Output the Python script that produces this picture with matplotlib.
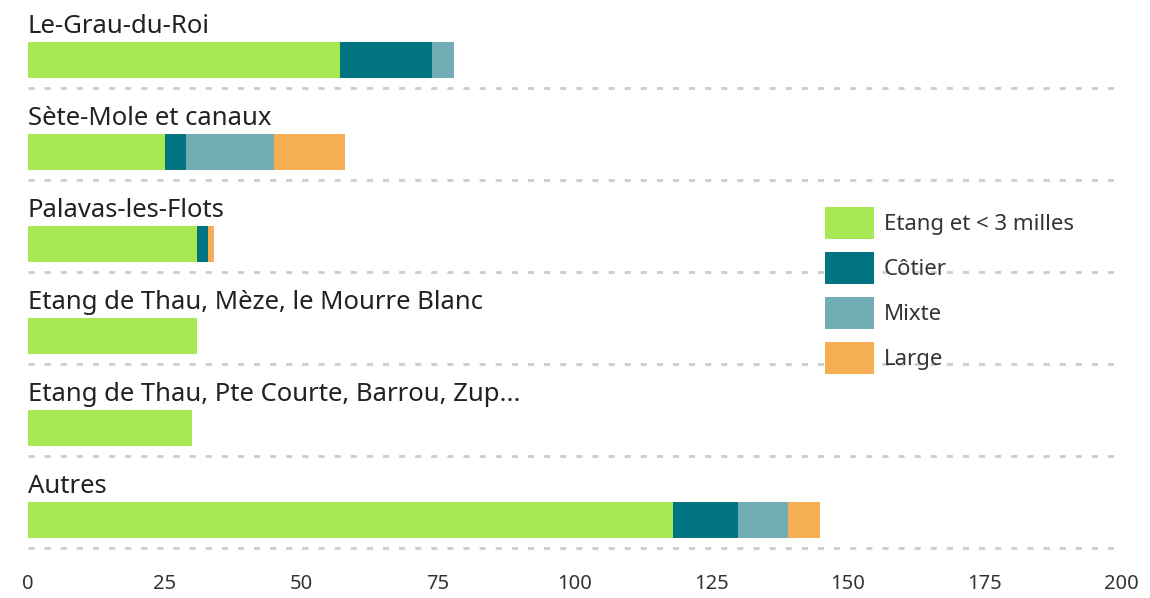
import matplotlib
matplotlib.use("Agg")
import matplotlib.pyplot as plt
from matplotlib.patches import Patch

categories = ["Le-Grau-du-Roi", "Sète-Mole et canaux", "Palavas-les-Flots",
              "Etang de Thau, Mèze, le Mourre Blanc",
              "Etang de Thau, Pte Courte, Barrou, Zup...", "Autres"]
series_names = ["Etang et < 3 milles", "Côtier", "Mixte", "Large"]
etang = [57, 25, 31, 31, 30, 118]
cotier = [17, 4, 2, 0, 0, 12]
mixte = [4, 16, 0, 0, 0, 9]
large = [0, 13, 1, 0, 0, 6]
x_ticks = [0, 25, 50, 75, 100, 125, 150, 175, 200]

colors = ["#a8e852", "#007480", "#70adb5", "#f5ae52"]
series = [etang, cotier, mixte, large]

W, H = 1150, 598
fig = plt.figure(figsize=(W / 100, H / 100), dpi=100)
ax = fig.add_axes([28 / W, 1 - 560 / H, (1121 - 28) / W, 560 / H])

ypos = list(range(len(categories)))
left = [0] * len(categories)
for vals, c, name in zip(series, colors, series_names):
    ax.barh(ypos, vals, left=left, height=0.39, color=c, label=name, zorder=3)
    left = [l + v for l, v in zip(left, vals)]

for i, cat in enumerate(categories):
    ax.text(0, i - 0.29, cat, ha="left", va="baseline", fontsize=18.5,
            family="Noto Sans", color="#222222")
    ax.plot([0, 200], [i + 0.30, i + 0.30], color="#cccccc", lw=2,
            dashes=(2.2, 3.6), zorder=1, clip_on=False)

ax.set_xlim(0, 200)
ax.set_ylim(500 / 92, -60 / 92)
ax.set_xticks(x_ticks)
ax.set_xticklabels([str(t) for t in x_ticks], fontsize=14.5, family="Noto Sans",
                   fontweight="light", color="#333333")
ax.tick_params(axis="x", length=0, pad=10)
ax.set_yticks([])
for s in ax.spines.values():
    s.set_visible(False)

handles = [Patch(facecolor=c, edgecolor="none") for c in colors]
leg = ax.legend(handles, series_names, loc="upper left",
                bbox_to_anchor=(825 / W, 1 - 207 / H), bbox_transform=fig.transFigure,
                frameon=False, borderpad=0, borderaxespad=0,
                handlelength=2.2, handleheight=1.84, labelspacing=0.58,
                handletextpad=0.45,
                prop={"family": "Noto Sans", "weight": "light", "size": 16})
for t in leg.get_texts():
    t.set_color("#333333")
leg.set_zorder(5)

fig.savefig("out.png", dpi=100)
